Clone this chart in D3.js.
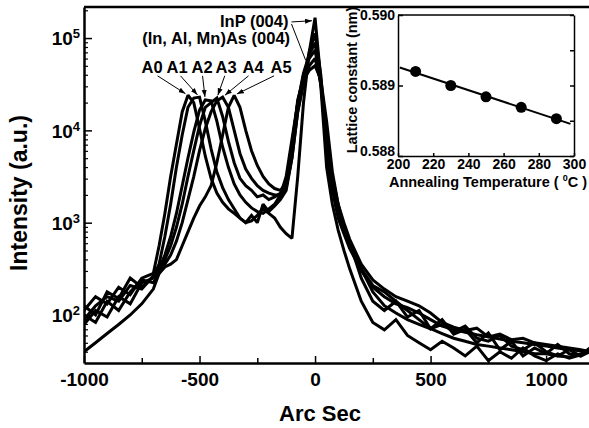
<!DOCTYPE html>
<html>
<head>
<meta charset="utf-8">
<script src="https://cdn.jsdelivr.net/npm/d3@7"></script>
<style>
  body { margin: 0; background: #fff; }
  svg { display: block; font-family: 'Liberation Sans', Arial, sans-serif; font-weight: bold; }
</style>
</head>
<body>
<svg id="chart" width="589" height="428"></svg>
<script>
// rocking curves, arc sec vs intensity (a.u.)
const arcSec = [-1000, -950, -900, -850, -800, -750,
  -700, -675, -650, -625, -600, -575, -550, -525, -500, -475, -450, -425, -400, -375,
  -350, -325, -300, -275, -250, -225, -200, -175, -150, -125, -100, -75, -50, -25, 0,
  25, 50, 75, 100, 125, 150,
  200, 250, 300, 350, 400, 450, 500, 550, 600, 650, 700, 750, 800, 850, 900, 950,
  1000, 1050, 1100, 1150, 1190];

const seriesNames = ['A0', 'A1', 'A2', 'A3', 'A4', 'A5'];

const a0 = [112, 158, 132, 200, 166, 251,
  282, 562, 1259, 3162, 7079, 15850, 23990, 19950, 10470, 5250, 3020, 2090, 1660, 1413,
  1259, 1122, 1000, 1047, 1202, 1413, 1259, 1122, 891, 759, 676, 3162, 19950, 70790, 166000,
  35480, 5623, 2239, 1122, 759, 525,
  302, 200, 158, 132, 120, 105, 89, 76, 70, 65, 61, 58, 55, 52, 50, 48, 46, 44, 42, 41, 40];
const a1 = [89, 126, 158, 141, 209, 191,
  263, 355, 708, 1585, 3981, 8913, 17780, 22390, 22910, 12590, 6310, 3548, 2399, 1778,
  1413, 1122, 1000, 1202, 1000, 1585, 1318, 1514, 1778, 2239, 5012, 15850, 35480, 70790, 112200,
  39810, 7079, 2512, 1259, 794, 562,
  316, 209, 178, 141, 112, 89, 71, 79, 66, 76, 56, 52, 60, 46, 42, 50, 40, 36, 42, 36, 40];
const a2 = [126, 100, 178, 151, 251, 200,
  263, 316, 447, 708, 1259, 2512, 5012, 9550, 16600, 21380, 20890, 12590, 6607, 3981,
  2630, 1995, 1660, 1445, 1318, 1259, 1413, 1585, 1995, 3162, 7943, 19950, 39810, 60260, 74130,
  31620, 7943, 2630, 1318, 832, 603,
  251, 141, 112, 141, 95, 112, 71, 89, 62, 70, 50, 64, 42, 52, 36, 44, 38, 48, 38, 36, 42];
const a3 = [79, 112, 95, 158, 132, 224,
  251, 302, 398, 562, 891, 1585, 3162, 6026, 11220, 17780, 19950, 22390, 14130, 7586,
  4467, 3020, 2512, 2239, 1905, 1995, 1778, 1905, 2089, 2818, 7079, 19950, 41690, 66070, 89130,
  30200, 3981, 1585, 832, 501, 316,
  141, 83, 69, 89, 60, 50, 42, 52, 44, 36, 46, 32, 40, 34, 44, 36, 32, 38, 34, 37, 44];
const a4 = [100, 83, 141, 112, 178, 240,
  224, 282, 355, 447, 631, 1000, 1778, 3162, 6026, 10470, 15850, 20890, 22910, 17780,
  10000, 5623, 3802, 3020, 2512, 2239, 2089, 1995, 1995, 2399, 5012, 15850, 31620, 50120, 60260,
  33110, 10000, 3162, 1585, 1000, 661,
  355, 240, 191, 158, 141, 126, 105, 83, 74, 68, 72, 58, 62, 54, 56, 50, 48, 46, 44, 42, 40];
const a5 = [40, 50, 63, 79, 100, 132,
  191, 282, 331, 355, 398, 562, 794, 1122, 1514, 1905, 2512, 4467, 8913, 17780,
  23990, 17780, 10000, 6026, 4169, 3162, 2630, 2344, 2239, 2692, 6310, 21380, 35480, 44670, 50120,
  35480, 12590, 3548, 1585, 891, 562,
  316, 178, 126, 105, 89, 79, 71, 63, 56, 52, 48, 46, 44, 42, 40, 38, 38, 36, 35, 38, 42];
const series = [a0, a1, a2, a3, a4, a5];

const xTicks = [-1000, -500, 0, 500, 1000];
const xMinorTicks = [-750, -250, 250, 750];
const yTicks = [100, 1000, 10000, 100000];

// annotation anchors, in data units
const peakLabelX = [-705, -597, -489, -385, -268, -147];
const peakLabelY = 42000;
const inpLabel = { x: -115, y: 132000, text: 'InP (004)' };
const layerLabel = { x: -108, y: 86000, text: '(In, Al, Mn)As (004)' };
const inpLineEnd = { x: -40, y: 57000 };

// inset: lattice constant vs annealing temperature
const temps = [210, 230, 250, 270, 290];
const lattice = [0.58920, 0.58900, 0.58884, 0.58869, 0.58853];
const fitRange = [201, 298];
const tempTicks = [200, 220, 240, 260, 280, 300];
const latticeTicks = [0.588, 0.589, 0.590];
const latticeMinorTicks = [0.5885, 0.5895];

const frame = { left: 84, right: 590, top: 7, bottom: 363 };
const inset = { left: 398, right: 574, top: 15, bottom: 156 };

const svg = d3.select('#chart');

const x = d3.scaleLinear().domain([-1000, 1190]).range([frame.left, frame.right]);
const y = d3.scaleLog().domain([30.2, 217000]).range([frame.bottom, frame.top]);

const ix = d3.scaleLinear().domain([200, 300]).range([inset.left, inset.right]);
const iy = d3.scaleLinear().domain([0.588, 0.590]).range([inset.bottom, inset.top]);

const styleAxis = (g, width) => {
  g.select('.domain').attr('stroke', '#000').attr('stroke-width', width);
  g.selectAll('.tick line').attr('stroke', '#000').attr('stroke-width', 1.5);
  g.selectAll('text').attr('fill', '#000').attr('font-weight', 'bold');
};

const drawCurves = () => {
  svg.append('clipPath').attr('id', 'plot-clip')
    .append('rect')
    .attr('x', frame.left)
    .attr('y', frame.top)
    .attr('width', frame.right - frame.left)
    .attr('height', frame.bottom - frame.top);

  const line = d3.line()
    .x((d, i) => x(arcSec[i]))
    .y(d => y(d));

  svg.append('g')
    .attr('clip-path', 'url(#plot-clip)')
    .selectAll('path')
    .data(series)
    .join('path')
    .attr('d', line)
    .attr('fill', 'none')
    .attr('stroke', '#000')
    .attr('stroke-width', 3)
    .attr('stroke-linejoin', 'miter')
    .attr('stroke-miterlimit', 2);
};

const drawMainAxes = () => {
  const xAxis = svg.append('g')
    .attr('transform', `translate(0,${frame.bottom})`)
    .call(d3.axisBottom(x).tickValues(xTicks).tickSizeInner(-7).tickSizeOuter(0).tickPadding(10)
      .tickFormat(d => String(d)))
    .attr('font-size', 19)
    .attr('font-family', null);
  styleAxis(xAxis, 2.5);

  svg.append('g')
    .attr('transform', `translate(0,${frame.bottom})`)
    .call(d3.axisBottom(x).tickValues(xMinorTicks).tickSizeInner(-5).tickSizeOuter(0).tickFormat(''))
    .call(g => g.select('.domain').remove())
    .call(g => g.selectAll('.tick line').attr('stroke', '#000').attr('stroke-width', 1.5));

  const [lo, hi] = y.domain();
  const minor = [];
  for (let e = 1; e <= 5; e++) {
    for (let k = 2; k <= 9; k++) {
      const v = k * Math.pow(10, e);
      if (v > lo && v < hi) minor.push(v);
    }
  }

  const yAxis = svg.append('g')
    .attr('transform', `translate(${frame.left},0)`)
    .call(d3.axisLeft(y).tickValues(yTicks).tickSizeInner(-8).tickSizeOuter(0).tickPadding(4).tickFormat(() => ''))
    .attr('font-size', 19)
    .attr('font-family', null);
  yAxis.selectAll('.tick text')
    .attr('dy', '0.36em')
    .call(t => t.append('tspan').text('10'))
    .call(t => t.append('tspan')
      .attr('dy', '-0.55em')
      .attr('font-size', 13)
      .text(d => Math.round(Math.log10(d))));
  styleAxis(yAxis, 2.5);

  svg.append('g')
    .attr('transform', `translate(${frame.left},0)`)
    .call(d3.axisLeft(y).tickValues(minor).tickSizeInner(-4).tickSizeOuter(0).tickFormat(''))
    .call(g => g.select('.domain').remove())
    .call(g => g.selectAll('.tick line').attr('stroke', '#000').attr('stroke-width', 1.2));

  svg.append('line')
    .attr('x1', frame.left)
    .attr('x2', frame.right)
    .attr('y1', frame.top)
    .attr('y2', frame.top)
    .attr('stroke', '#000')
    .attr('stroke-width', 2.5);

  svg.append('text')
    .attr('x', 320)
    .attr('y', 421)
    .attr('text-anchor', 'middle')
    .attr('font-size', 22)
    .text('Arc Sec');

  svg.append('text')
    .attr('transform', 'translate(27,193) rotate(-90)')
    .attr('text-anchor', 'middle')
    .attr('font-size', 23)
    .text('Intensity (a.u.)');
};

const drawAnnotations = () => {
  const defs = svg.append('defs');
  defs.append('marker')
    .attr('id', 'arrow')
    .attr('markerUnits', 'userSpaceOnUse')
    .attr('markerWidth', 8)
    .attr('markerHeight', 6)
    .attr('refX', 7)
    .attr('refY', 2.5)
    .attr('orient', 'auto')
    .append('path')
    .attr('d', 'M0,0L7,2.5L0,5Z')
    .attr('fill', '#000');

  const g = svg.append('g').attr('font-size', 16.5);

  seriesNames.forEach((name, i) => {
    const values = series[i];
    // top of the (In,Al,Mn)As layer peak: highest point left of -200 arc sec
    let peak = 0;
    arcSec.forEach((s, j) => {
      if (s < -200 && values[j] > values[peak]) peak = j;
    });
    const px = x(arcSec[peak]);
    const py = y(values[peak]);
    const lx = x(peakLabelX[i]);
    const ly = y(peakLabelY);

    g.append('text')
      .attr('x', lx)
      .attr('y', ly)
      .attr('text-anchor', 'middle')
      .text(name);

    const sx = lx + (px - lx) * 0.15;
    const sy = ly + 3;
    const len = Math.hypot(px - sx, py - sy);
    g.append('line')
      .attr('x1', sx)
      .attr('y1', sy)
      .attr('x2', px - (px - sx) / len * 3)
      .attr('y2', py - (py - sy) / len * 3)
      .attr('stroke', '#000')
      .attr('stroke-width', 1)
      .attr('marker-end', 'url(#arrow)');
  });

  g.append('text')
    .attr('x', x(layerLabel.x))
    .attr('y', y(layerLabel.y))
    .attr('text-anchor', 'end')
    .text(layerLabel.text);

  g.append('text')
    .attr('x', x(inpLabel.x))
    .attr('y', y(inpLabel.y))
    .attr('text-anchor', 'end')
    .text(inpLabel.text);

  const topIdx = d3.maxIndex(a0);
  const sx = x(inpLabel.x) + 3;
  const sy = y(inpLabel.y) - 5;
  g.append('line')
    .attr('x1', sx)
    .attr('y1', sy)
    .attr('x2', x(arcSec[topIdx]) - 3)
    .attr('y2', y(a0[topIdx]) + 3)
    .attr('stroke', '#000')
    .attr('stroke-width', 1)
    .attr('marker-end', 'url(#arrow)');
  g.append('line')
    .attr('x1', sx)
    .attr('y1', sy + 2)
    .attr('x2', x(inpLineEnd.x))
    .attr('y2', y(inpLineEnd.y))
    .attr('stroke', '#000')
    .attr('stroke-width', 1);
};

const drawInset = () => {
  const g = svg.append('g').attr('class', 'inset');

  const bottom = g.append('g')
    .attr('transform', `translate(0,${inset.bottom})`)
    .call(d3.axisBottom(ix).tickValues(tempTicks).tickSizeInner(-3).tickSizeOuter(0).tickPadding(3))
    .attr('font-size', 14)
    .attr('font-family', null);
  styleAxis(bottom, 1.5);

  const left = g.append('g')
    .attr('transform', `translate(${inset.left},0)`)
    .call(d3.axisLeft(iy).tickValues(latticeTicks).tickSizeInner(-5).tickSizeOuter(0).tickPadding(3)
      .tickFormat(d3.format('.3f')))
    .attr('font-size', 14)
    .attr('font-family', null);
  styleAxis(left, 1.5);
  // lowest label sits a little higher, clear of the "200" below it
  left.selectAll('.tick text').filter(d => d === latticeTicks[0]).attr('dy', '-0.05em');

  const right = g.append('g')
    .attr('transform', `translate(${inset.right},0)`)
    .call(d3.axisRight(iy).tickValues(latticeTicks.concat(latticeMinorTicks)).tickSizeInner(-4).tickSizeOuter(0).tickFormat(''));
  styleAxis(right, 1.5);

  g.append('line')
    .attr('x1', inset.left)
    .attr('x2', inset.right)
    .attr('y1', inset.top)
    .attr('y2', inset.top)
    .attr('stroke', '#000')
    .attr('stroke-width', 1.5);

  // least-squares line through the points
  const mx = d3.mean(temps);
  const my = d3.mean(lattice);
  const slope = d3.sum(temps, (t, i) => (t - mx) * (lattice[i] - my)) /
    d3.sum(temps, t => (t - mx) * (t - mx));
  const fit = fitRange.map(t => [t, my + slope * (t - mx)]);

  g.append('path')
    .attr('d', d3.line().x(d => ix(d[0])).y(d => iy(d[1]))(fit))
    .attr('fill', 'none')
    .attr('stroke', '#000')
    .attr('stroke-width', 2);

  g.selectAll('circle')
    .data(temps)
    .join('circle')
    .attr('cx', d => ix(d))
    .attr('cy', (d, i) => iy(lattice[i]))
    .attr('r', 5.5)
    .attr('fill', '#000');

  g.append('text')
    .attr('transform', 'translate(357,80) rotate(-90)')
    .attr('text-anchor', 'middle')
    .attr('font-size', 14.5)
    .text('Lattice constant (nm)');

  const title = g.append('text')
    .attr('x', 488)
    .attr('y', 187)
    .attr('text-anchor', 'middle')
    .attr('font-size', 14.5);
  title.append('tspan').text('Annealing Temperature ( ');
  title.append('tspan').attr('dy', -6).attr('font-size', 9).text('0');
  title.append('tspan').attr('dy', 6).text('C )');
};

drawCurves();
drawMainAxes();
drawAnnotations();
drawInset();
</script>
</body>
</html>
